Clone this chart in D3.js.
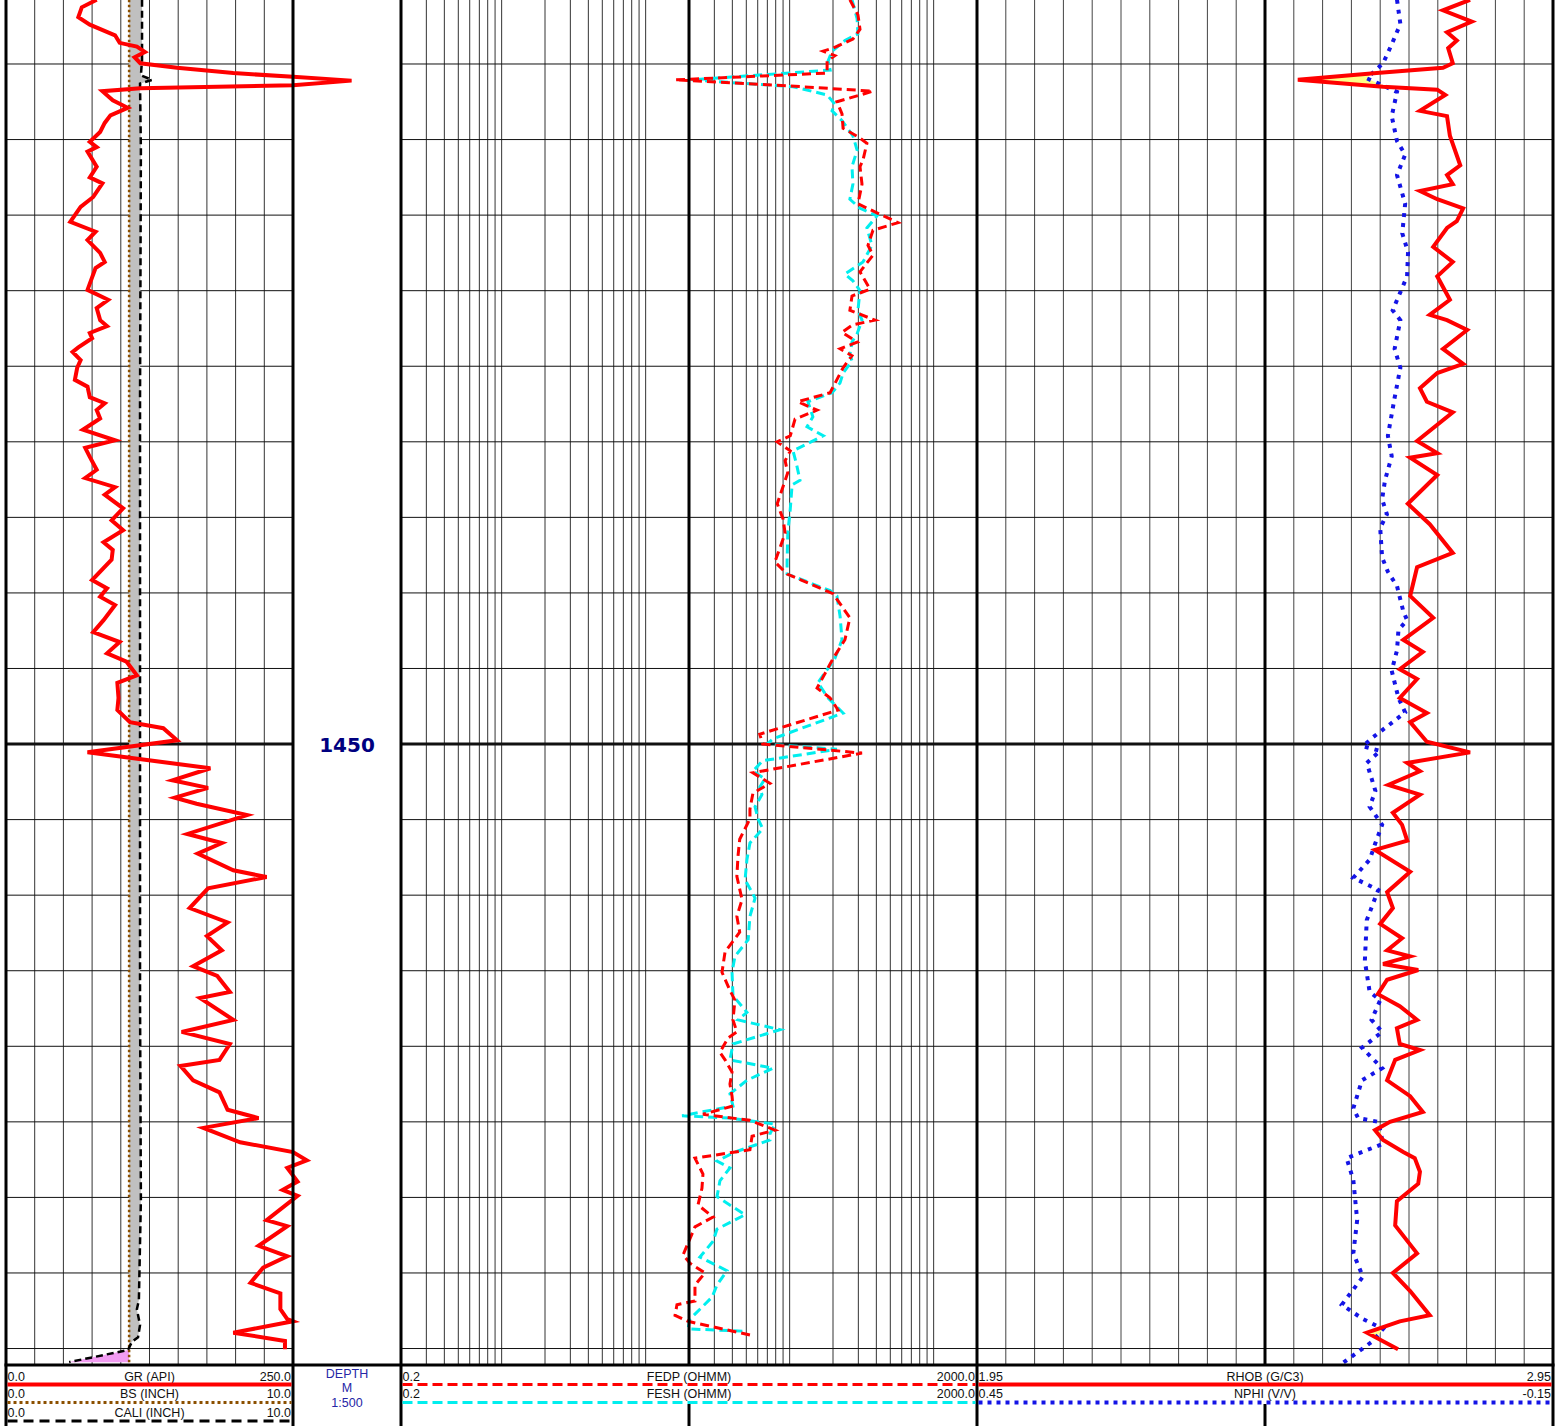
<!DOCTYPE html>
<html>
<head>
<meta charset="utf-8">
<script src="https://cdn.jsdelivr.net/npm/d3@7"></script>
<style>
  html, body { margin: 0; padding: 0; background: #fff; }
  svg { display: block; font-family: "Liberation Sans", Arial, sans-serif; }
</style>
</head>
<body>
<div id="chart"></div>
<script>
// curves are [depth (m), value]
const gr = [[1351.5,79],[1352.5,66],[1353.8,63],[1354.8,73],[1356.2,95],[1357.2,99],[1357.7,114],[1358.4,121],[1359.1,112],[1359.9,117],[1360.5,149],[1361.2,198],[1361.7,250],[1362.2,301],[1362.8,250],[1363.2,117],[1363.6,84],[1364.8,93],[1365.8,106],[1366.8,91],[1367.8,86],[1369.0,82],[1370.3,73],[1371.0,79],[1371.6,71],[1373.6,79],[1375.0,73],[1375.8,84],[1377.6,76],[1378.9,65],[1380.9,56],[1382.2,78],[1383.3,71],[1385.0,82],[1386.2,86],[1387.0,78],[1389.9,71],[1391.2,89],[1392.3,79],[1393.9,82],[1394.7,88],[1395.6,73],[1396.3,75],[1397.5,63],[1398.1,58],[1399.2,65],[1400.2,62],[1401.8,60],[1402.7,71],[1404.1,73],[1404.9,86],[1405.8,79],[1406.9,82],[1408.4,67],[1409.8,95],[1410.8,69],[1412.0,73],[1413.7,79],[1414.8,69],[1416.0,95],[1417.0,86],[1418.8,102],[1420.4,92],[1421.7,102],[1423.3,85],[1424.3,93],[1425.6,92],[1428.3,75],[1429.4,88],[1430.5,82],[1431.6,95],[1433.6,85],[1435.2,76],[1436.5,99],[1438.0,88],[1439.1,105],[1440.9,114],[1441.9,97],[1443.9,98],[1445.5,97],[1447.1,108],[1447.9,137],[1449.5,149],[1451.1,71],[1453.2,178],[1454.8,145],[1455.8,176],[1457.1,147],[1457.9,166],[1459.4,210],[1461.9,158],[1463.1,188],[1464.5,167],[1466.7,198],[1467.6,227],[1469.1,176],[1471.7,160],[1473.6,193],[1475.4,175],[1477.3,188],[1479.4,163],[1480.7,184],[1482.8,195],[1483.6,169],[1486.5,198],[1488.1,153],[1489.7,195],[1491.8,186],[1492.6,152],[1494.5,163],[1496.1,186],[1498.4,193],[1499.5,220],[1500.8,172],[1502.7,204],[1504.0,250],[1505.1,262],[1506.1,245],[1507.9,254],[1509.0,241],[1509.8,254],[1513.0,227],[1513.8,245],[1516.4,220],[1517.8,245],[1519.3,224],[1521.3,213],[1522.7,239],[1524.8,239],[1526.1,245],[1526.4,250],[1527.9,198],[1529.0,243],[1530.1,243]];

const cali = [[1351.5,4.74],[1359.5,4.74],[1361.5,4.70],[1362.1,5.09],[1362.6,4.67],[1371.4,4.70],[1404.5,4.67],[1444.2,4.67],[1483.9,4.67],[1510.3,4.70],[1523.6,4.63],[1524.8,4.56],[1526.9,4.67],[1528.5,4.60],[1529.1,4.39],[1530.2,4.25],[1531.8,2.2]];

const bs = [[1351.5,4.29],[1532.2,4.29]];

const fedp = [[1351.5,262],[1353.5,298],[1355.4,308],[1356.7,275],[1357.9,200],[1358.3,171],[1358.9,206],[1359.6,182],[1361.2,182],[1362.1,16],[1362.8,82],[1363.6,379],[1365.0,213],[1366.6,231],[1368.5,235],[1369.8,308],[1370.5,344],[1372.7,323],[1373.6,308],[1375.9,318],[1378.5,298],[1379.7,404],[1381.0,566],[1382.0,379],[1384.0,350],[1385.3,379],[1387.5,308],[1389.8,361],[1390.7,271],[1392.6,262],[1393.9,392],[1394.5,275],[1395.5,231],[1396.8,294],[1397.7,224],[1398.6,271],[1400.2,235],[1403.5,191],[1404.7,114],[1405.8,155],[1407.0,109],[1409.2,101],[1410.0,82],[1411.2,101],[1412.5,93],[1414.1,97],[1418.2,82],[1420.2,90],[1422.1,93],[1425.9,79],[1427.5,96],[1430.1,200],[1433.3,262],[1436.2,242],[1438.7,200],[1442.6,155],[1443.9,191],[1445.5,217],[1448.7,62],[1450.0,65],[1451.2,318],[1453.8,55.6],[1455.2,73],[1456.5,55.6],[1458.6,53],[1459.9,53],[1462.6,45],[1464.8,43.8],[1467.5,43],[1470.6,46.7],[1472.8,43],[1474.9,45],[1477.5,35.6],[1480.2,33.9],[1482.6,38.5],[1483.9,41.7],[1486.5,40.4],[1488.1,43],[1488.9,37.3],[1490.8,32.8],[1491.8,35.6],[1493.4,39.8],[1495.0,38.5],[1496.6,39.8],[1497.9,40.4],[1499.0,25],[1499.8,53],[1501.1,79],[1501.9,54.8],[1503.7,53],[1504.8,22],[1506.9,25],[1508.8,24.6],[1511.0,23.1],[1512.6,29.4],[1513.9,22],[1517.6,18.2],[1518.7,20.3],[1520.0,25.8],[1521.6,22],[1523.7,22],[1524.2,16.5],[1525.6,16.0],[1526.4,19.7],[1528.2,53]];

const fesh = [[1351.5,271],[1354.0,294],[1356.0,298],[1356.9,242],[1358.3,197],[1359.6,185],[1360.8,191],[1362.1,20.9],[1363.0,105.6],[1364.1,182],[1365.3,206],[1366.2,197],[1367.5,231],[1369.5,275],[1371.4,294],[1373.6,271],[1375.9,275],[1377.9,262],[1379.1,308],[1380.1,404],[1381.7,344],[1384.0,373],[1386.2,323],[1387.8,242],[1388.7,275],[1390.0,308],[1392.6,298],[1393.9,318],[1395.7,294],[1396.8,271],[1398.4,262],[1399.3,271],[1400.9,235],[1402.2,224],[1403.5,197],[1404.7,134],[1406.7,145],[1408.0,132],[1409.2,171],[1411.2,105.6],[1413.1,112],[1415.1,118],[1415.7,104],[1418.9,101],[1422.1,97],[1425.9,96],[1427.5,96],[1429.7,191],[1430.4,213],[1433.1,224],[1436.2,231],[1438.7,206],[1441.9,157],[1443.9,185],[1445.9,235],[1449.3,76.7],[1450.0,69.7],[1450.7,213],[1452.2,65],[1453.6,55.6],[1454.6,67.4],[1455.7,62],[1456.7,64.2],[1458.3,57.5],[1459.9,60.3],[1461.2,65],[1463.1,53],[1465.3,50.5],[1468.0,49],[1469.6,54.8],[1470.4,57.5],[1472.8,53],[1475.9,51.5],[1478.1,41.7],[1480.2,39.8],[1483.3,40.4],[1485.5,50.5],[1486.5,43.8],[1487.8,85.6],[1489.7,40.4],[1491.8,38.5],[1492.9,76.7],[1494.5,50.5],[1496.3,38.5],[1497.9,40.4],[1499.2,17.9],[1499.5,38.5],[1500.3,79],[1501.6,73],[1502.4,73],[1504.0,41.7],[1505.2,31.3],[1506.1,38.5],[1507.8,32.8],[1509.9,31.3],[1512.3,49],[1514.2,31.3],[1515.8,29.4],[1517.9,23.8],[1519.7,36.7],[1521.6,31.3],[1523.2,28.9],[1524.8,23.8],[1526.1,20.3],[1527.4,19.7],[1527.7,47.4]];

const rhob = [[1351.5,2.806],[1352.9,2.759],[1354.4,2.809],[1355.8,2.766],[1356.9,2.783],[1357.9,2.768],[1359.9,2.776],[1360.5,2.759],[1361.2,2.644],[1362.1,2.507],[1363.0,2.655],[1363.4,2.749],[1364.1,2.763],[1366.2,2.719],[1366.9,2.766],[1369.5,2.771],[1373.4,2.789],[1374.7,2.766],[1375.9,2.776],[1376.8,2.719],[1377.9,2.749],[1379.1,2.794],[1380.8,2.783],[1381.7,2.766],[1384.2,2.742],[1386.2,2.776],[1388.1,2.749],[1391.2,2.771],[1393.2,2.736],[1393.9,2.766],[1395.2,2.801],[1397.7,2.759],[1399.7,2.794],[1400.9,2.749],[1402.9,2.719],[1404.7,2.731],[1406.1,2.776],[1409.9,2.714],[1411.5,2.749],[1412.1,2.702],[1414.4,2.749],[1418.2,2.698],[1420.9,2.736],[1424.7,2.776],[1426.6,2.714],[1430.4,2.702],[1433.3,2.742],[1436.2,2.690],[1437.8,2.724],[1440.1,2.684],[1441.4,2.714],[1443.9,2.684],[1445.9,2.731],[1447.1,2.702],[1449.7,2.731],[1451.1,2.806],[1452.5,2.697],[1453.6,2.719],[1455.4,2.664],[1456.7,2.719],[1459.1,2.672],[1460.7,2.688],[1462.8,2.697],[1464.0,2.641],[1466.9,2.702],[1469.6,2.662],[1471.7,2.672],[1473.8,2.650],[1475.7,2.688],[1477.3,2.662],[1478.1,2.702],[1479.1,2.655],[1479.9,2.716],[1481.2,2.662],[1483.1,2.646],[1484.7,2.684],[1486.5,2.714],[1487.6,2.679],[1489.7,2.684],[1490.5,2.719],[1491.8,2.676],[1494.5,2.662],[1496.6,2.702],[1498.7,2.724],[1500.0,2.667],[1501.1,2.641],[1502.4,2.655],[1504.0,2.690],[1504.8,2.710],[1506.6,2.719],[1508.2,2.716],[1510.5,2.679],[1513.7,2.676],[1517.4,2.714],[1520.0,2.672],[1522.4,2.702],[1525.6,2.736],[1526.4,2.684],[1527.9,2.627],[1530.1,2.681]];

const nphi = [[1351.5,0.0125],[1354.7,0.009],[1357.4,0.018],[1359.9,0.027],[1361.9,0.044],[1362.8,0.028],[1363.7,0.0125],[1366.9,0.018],[1370.2,0.0125],[1372.0,0.004],[1374.7,0.0125],[1378.5,0.004],[1382.4,0.007],[1384.9,0.001],[1388.1,0.002],[1392.6,0.017],[1393.9,0.009],[1397.7,0.015],[1400.2,0.009],[1404.2,0.015],[1409.2,0.022],[1411.9,0.018],[1415.1,0.025],[1417.6,0.028],[1419.6,0.023],[1421.4,0.030],[1425.3,0.028],[1427.2,0.022],[1429.1,0.0125],[1432.4,0.006],[1433.6,0.002],[1434.9,0.011],[1437.6,0.0125],[1440.3,0.018],[1443.9,0.011],[1445.8,0.004],[1447.1,0.017],[1449.1,0.0375],[1450.3,0.048],[1450.9,0.030],[1452.5,0.044],[1456.2,0.035],[1458.3,0.041],[1460.7,0.028],[1463.1,0.035],[1465.3,0.041],[1467.7,0.058],[1469.3,0.032],[1473.3,0.044],[1478.7,0.046],[1482.8,0.041],[1483.9,0.030],[1486.5,0.039],[1488.1,0.028],[1490.2,0.049],[1492.9,0.028],[1494.5,0.049],[1498.2,0.058],[1499.5,0.053],[1500.0,0.032],[1502.9,0.027],[1504.8,0.065],[1507.7,0.058],[1513.0,0.054],[1517.4,0.058],[1520.5,0.048],[1524.2,0.070],[1526.1,0.048],[1527.4,0.027],[1529.0,0.0375],[1532.2,0.072]];

const depthLines = [1360, 1370, 1380, 1390, 1400, 1410, 1420, 1430, 1440, 1450, 1460, 1470, 1480, 1490, 1500, 1510, 1520, 1530];
const depthLabels = [1450];
const resDecades = [0.1, 1, 10, 100];

// header rows: [left, title, right]
const grHeader = [['0.0', 'GR (API)', '250.0'], ['0.0', 'BS (INCH)', '10.0'], ['0.0', 'CALI (INCH)', '10.0']];
const resHeader = [['0.2', 'FEDP (OHMM)', '2000.0'], ['0.2', 'FESH (OHMM)', '2000.0']];
const denHeader = [['1.95', 'RHOB (G/C3)', '2.95'], ['0.45', 'NPHI (V/V)', '-0.15']];
const depthHeader = ['DEPTH', 'M', '1:500'];

const W = 1558, H = 1426, PLOT_H = 1365;
const TOP_DEPTH = 1351.53, BASE_DEPTH = 1532.18;
const TRACK = { gr: [6, 293], depth: [293, 401], res: [401, 977], den: [977, 1553] };

const svg = d3.select('#chart').append('svg')
  .attr('width', W)
  .attr('height', H);
svg.append('rect').attr('width', W).attr('height', H).attr('fill', '#fff');

const y = d3.scaleLinear().domain([TOP_DEPTH, BASE_DEPTH]).range([0, PLOT_H]);
const grX = d3.scaleLinear().domain([0, 250]).range(TRACK.gr);
const caliX = d3.scaleLinear().domain([0, 10]).range(TRACK.gr);
const resX = d3.scaleLog().domain([0.2, 2000]).range(TRACK.res);
const rhobX = d3.scaleLinear().domain([1.95, 2.95]).range(TRACK.den);
const nphiX = d3.scaleLinear().domain([0.45, -0.15]).range(TRACK.den);

function vline(g, x, y0, y1, color, width) {
  g.append('line')
    .attr('x1', x).attr('x2', x)
    .attr('y1', y0).attr('y2', y1)
    .attr('stroke', color)
    .attr('stroke-width', width);
}

function hline(g, yy, x0, x1, color, width, dash) {
  g.append('line')
    .attr('x1', x0).attr('x2', x1)
    .attr('y1', yy).attr('y2', yy)
    .attr('stroke', color)
    .attr('stroke-width', width)
    .attr('stroke-dasharray', dash || null);
}

function drawGrid() {
  const g = svg.append('g');
  d3.range(25, 250, 25).forEach(v => vline(g, grX(v), 0, PLOT_H, '#333', 1));
  const resLines = resDecades.flatMap(b => d3.range(2, 11).map(k => b * k)).filter(v => v > 0.2);
  resLines.forEach(v => vline(g, resX(v), 0, PLOT_H, '#333', 1));
  d3.range(1, 20).forEach(i => vline(g, rhobX(1.95 + i * 0.05), 0, PLOT_H, '#444', 1));
  depthLines.forEach(d => {
    const thick = depthLabels.includes(d);
    hline(g, y(d), TRACK.gr[0], TRACK.gr[1], '#111', thick ? 3 : 1);
    hline(g, y(d), TRACK.res[0], TRACK.den[1], '#111', thick ? 3 : 1);
  });
}

function valueAt(curve, d) {
  const i = d3.bisector(p => p[0]).left(curve, d);
  if (i <= 0) return curve[0][1];
  if (i >= curve.length) return curve[curve.length - 1][1];
  const a = curve[i - 1], b = curve[i];
  return a[1] + (d - a[0]) / (b[0] - a[0]) * (b[1] - a[1]);
}

// fill where curve A sits left of curve B (in pixels)
function fillBetween(a, sa, b, sb, color) {
  const top = Math.max(a[0][0], b[0][0]);
  const base = Math.min(a[a.length - 1][0], b[b.length - 1][0]);
  const depths = d3.range(top, base, 0.05).concat([base]);
  const pts = depths.map(d => {
    const xa = sa(valueAt(a, d)), xb = sb(valueAt(b, d));
    return { d, x0: xa, x1: Math.max(xa, xb) };
  });
  svg.append('path')
    .datum(pts)
    .attr('fill', color)
    .attr('stroke', 'none')
    .attr('d', d3.area().x0(p => p.x0).x1(p => p.x1).y(p => y(p.d)));
}

function drawCurve(curve, scale, color, width, dash) {
  svg.append('path')
    .datum(curve)
    .attr('fill', 'none')
    .attr('stroke', color)
    .attr('stroke-width', width)
    .attr('stroke-dasharray', dash || null)
    .attr('stroke-linejoin', 'miter')
    .attr('d', d3.line().x(p => scale(p[1])).y(p => y(p[0])));
}

function drawBorders() {
  const g = svg.append('g');
  [TRACK.gr[0], TRACK.gr[1], TRACK.res[0], TRACK.den[0], TRACK.den[1]]
    .forEach(x => vline(g, x, 0, H, '#000', 3));
  vline(g, resX(20), 0, PLOT_H, '#000', 3);
  vline(g, rhobX(2.45), 0, PLOT_H, '#000', 3);
  vline(g, resX(20), 1404, H, '#000', 3);
  vline(g, rhobX(2.45), 1404, H, '#000', 3);
  hline(g, PLOT_H, TRACK.gr[0] - 1.5, TRACK.den[1] + 1.5, '#000', 3);

  depthLabels.forEach(d => {
    g.append('text')
      .attr('x', (TRACK.depth[0] + TRACK.depth[1]) / 2)
      .attr('y', y(d) + 7.5)
      .attr('text-anchor', 'middle')
      .attr('font-family', '"DejaVu Sans", sans-serif')
      .attr('font-weight', 'bold')
      .attr('font-size', 20)
      .attr('fill', '#000080')
      .text(d);
  });
}

const ROW_BASE = [1380.5, 1398, 1416.5];
const ROW_LINE = [1384.5, 1402.5, 1421];

function headerRow(g, range, row, labels, color, width, dash) {
  const [x0, x1] = range;
  const t = g.append('g').attr('font-size', 12.5).attr('fill', '#111');
  t.append('text').attr('x', x0 + 1.5).attr('y', ROW_BASE[row]).text(labels[0]);
  t.append('text').attr('x', (x0 + x1) / 2).attr('y', ROW_BASE[row])
    .attr('text-anchor', 'middle').text(labels[1]);
  t.append('text').attr('x', x1 - 2).attr('y', ROW_BASE[row])
    .attr('text-anchor', 'end').text(labels[2]);
  hline(g, ROW_LINE[row], x0 + 1.5, x1 - 1.5, color, width, dash);
}

function drawHeader() {
  const g = svg.append('g');
  headerRow(g, TRACK.gr, 0, grHeader[0], '#ff0000', 4);
  headerRow(g, TRACK.gr, 1, grHeader[1], '#8c5000', 3, '3,3');
  headerRow(g, TRACK.gr, 2, grHeader[2], '#000', 3, '10,6');
  headerRow(g, TRACK.res, 0, resHeader[0], '#ff0000', 3, '10,5');
  headerRow(g, TRACK.res, 1, resHeader[1], '#00eeee', 3, '10,5');
  headerRow(g, TRACK.den, 0, denHeader[0], '#ff0000', 4);
  headerRow(g, TRACK.den, 1, denHeader[1], '#1414e6', 4, '4,5');

  depthHeader.forEach((s, i) => {
    g.append('text')
      .attr('x', (TRACK.depth[0] + TRACK.depth[1]) / 2)
      .attr('y', 1377.5 + i * 14.5)
      .attr('text-anchor', 'middle')
      .attr('font-size', 12.5)
      .attr('fill', '#2626a6')
      .text(s);
  });
}

drawGrid();

// caliper vs bit size shading
fillBetween(bs, caliX, cali, caliX, '#c0c0c0');
fillBetween(cali, caliX, bs, caliX, '#f29cf2');
// density-neutron crossover
fillBetween(rhob, rhobX, nphi, nphiX, '#ffff88');

drawCurve(bs, caliX, '#8c5000', 2.5, '2.5,2.5');
drawCurve(cali, caliX, '#000', 2.5, '7,4');
drawCurve(gr, grX, '#ff0000', 4);
drawCurve(fesh, resX, '#00eeee', 3, '9,5');
drawCurve(fedp, resX, '#ff0000', 3, '9,5');
drawCurve(nphi, nphiX, '#1414e6', 4, '4,6');
drawCurve(rhob, rhobX, '#ff0000', 4);

drawBorders();
drawHeader();
</script>
</body>
</html>
